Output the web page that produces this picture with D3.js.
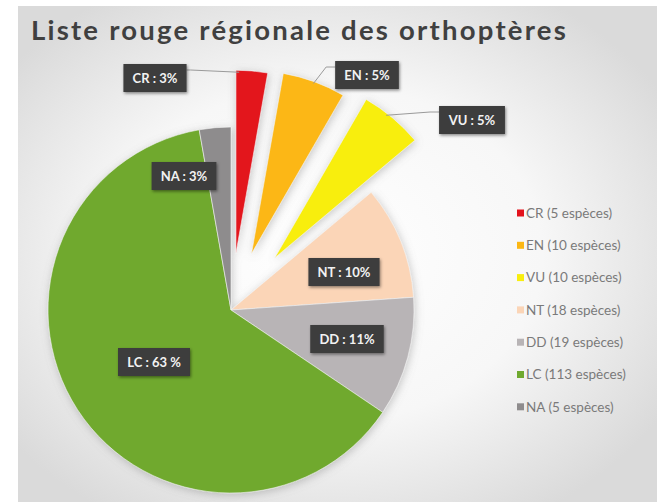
<!DOCTYPE html>
<html>
<head>
<meta charset="utf-8">
<script src="https://cdn.jsdelivr.net/npm/d3@7"></script>
<style>
  body { margin: 0; background: #fff; }
  svg { display: block; }
</style>
</head>
<body>
<div id="chart"></div>
<script>
// DATA
const categories = ["CR", "EN", "VU", "NT", "DD", "LC", "NA"];
const speciesCounts = [5, 10, 10, 18, 19, 113, 5];
const sliceLabels = ["CR : 3%", "EN : 5%", "VU : 5%", "NT : 10%", "DD : 11%", "LC : 63 %", "NA : 3%"];
const legendLabels = categories.map((c, i) => `${c} (${speciesCounts[i]} espèces)`);
const chartTitle = "Liste rouge régionale des orthoptères";

// STYLE / LAYOUT
const width = 657;
const height = 502;
const center = { x: 231, y: 310 };
const radius = 183;
const colors = {
  CR: "#e3121c", EN: "#fcb713", VU: "#f8ee0e", NT: "#fbd5b7",
  DD: "#b8b4b6", LC: "#6fa92f", NA: "#8e8c8d"
};
const explode = { CR: 57, EN: 60, VU: 68 };
// label box centres, relative to the pie centre
const labelOffsets = {
  CR: [-76, -232], EN: [136, -235], VU: [241, -190],
  NT: [113, -38], DD: [116, 29], LC: [-77, 52], NA: [-47, -134]
};
// where leader lines touch the slice (fraction of slice angle)
const leaders = { CR: { frac: 0.1, side: "right" }, EN: { frac: 0.5, side: "left" }, VU: { frac: 0.4, side: "left" } };

const svg = d3.select("#chart")
  .append("svg")
  .attr("width", width)
  .attr("height", height)
  .attr("viewBox", `0 0 ${width} ${height}`);

const defs = svg.append("defs");
const bg = defs.append("radialGradient")
  .attr("id", "bgGrad")
  .attr("cx", "48%").attr("cy", "50%").attr("r", "62%");
bg.append("stop").attr("offset", "0%").attr("stop-color", "#ffffff");
bg.append("stop").attr("offset", "55%").attr("stop-color", "#f7f7f7");
bg.append("stop").attr("offset", "100%").attr("stop-color", "#dadada");

const shadow = defs.append("filter").attr("id", "pieShadow")
  .attr("x", "-20%").attr("y", "-20%").attr("width", "140%").attr("height", "140%");
shadow.append("feDropShadow")
  .attr("dx", 1).attr("dy", 2).attr("stdDeviation", 4)
  .attr("flood-color", "#777").attr("flood-opacity", 0.4);

const boxShadow = defs.append("filter").attr("id", "boxShadow")
  .attr("x", "-20%").attr("y", "-30%").attr("width", "140%").attr("height", "160%");
boxShadow.append("feDropShadow")
  .attr("dx", 1).attr("dy", 1.5).attr("stdDeviation", 1.5)
  .attr("flood-color", "#000").attr("flood-opacity", 0.45);

// BACKGROUND
svg.append("rect")
  .attr("x", 18).attr("y", 6)
  .attr("width", width - 18).attr("height", height - 6)
  .attr("fill", "url(#bgGrad)");

// TITLE (fit to the reference width with a little letter spacing)
const titleText = svg.append("text")
  .attr("x", 31).attr("y", 40)
  .attr("font-family", "Lato, 'Open Sans', sans-serif")
  .attr("font-weight", 700)
  .attr("font-size", 27.5)
  .attr("fill", "#404040")
  .text(chartTitle);
const tLen = titleText.node().getComputedTextLength();
titleText.attr("letter-spacing", (537 - tLen) / chartTitle.length);

// PIE
const data = categories.map((c, i) => ({ cat: c, count: speciesCounts[i], label: sliceLabels[i] }));
const pie = d3.pie().sort(null).value(d => d.count);
const arcs = pie(data);
const arc = d3.arc().innerRadius(0).outerRadius(radius);

const offsetOf = (d) => {
  const e = explode[d.data.cat] || 0;
  const mid = (d.startAngle + d.endAngle) / 2;
  return [Math.sin(mid) * e, -Math.cos(mid) * e];
};

const pieG = svg.append("g")
  .attr("transform", `translate(${center.x}, ${center.y})`);

pieG.append("g")
  .attr("filter", "url(#pieShadow)")
  .selectAll("path")
  .data(arcs)
  .join("path")
  .attr("transform", d => `translate(${offsetOf(d)})`)
  .attr("d", arc)
  .attr("fill", d => colors[d.data.cat])
  .attr("stroke", "#f4f4f4")
  .attr("stroke-width", 0.6);

// LABELS
const labelG = pieG.append("g");
arcs.forEach(d => {
  const [lx, ly] = labelOffsets[d.data.cat];
  const g = labelG.append("g").attr("transform", `translate(${lx}, ${ly})`);
  const rect = g.append("rect").attr("fill", "#3d3d3d").attr("filter", "url(#boxShadow)");
  const t = g.append("text")
    .attr("text-anchor", "middle")
    .attr("dy", "0.36em")
    .attr("font-family", "Lato, 'Open Sans', sans-serif")
    .attr("font-weight", 700)
    .attr("font-size", 13)
    .attr("fill", "#f2f2f2")
    .text(d.data.label);
  const bb = t.node().getBBox();
  const padX = 9, boxH = 28;
  const bw = bb.width + padX * 2;
  rect.attr("x", -bw / 2).attr("y", -boxH / 2).attr("width", bw).attr("height", boxH);

  const ld = leaders[d.data.cat];
  if (ld) {
    const [ox, oy] = offsetOf(d);
    const a = d.startAngle + (d.endAngle - d.startAngle) * ld.frac;
    const tx = ox + Math.sin(a) * (radius - 2);
    const ty = oy - Math.cos(a) * (radius - 2);
    const sx = ld.side === "right" ? lx + bw / 2 : lx - bw / 2;
    const sy = ly - boxH / 2 + 6;
    const kx = ld.side === "right" ? sx + 4 : sx - 9;
    labelG.insert("polyline", ":first-child")
      .attr("points", [[sx, sy], [kx, sy], [tx, ty]].map(p => p.join(",")).join(" "))
      .attr("fill", "none")
      .attr("stroke", "#9a9a9a")
      .attr("stroke-width", 1);
  }
});

// LEGEND
const legend = svg.append("g").attr("transform", "translate(517, 213)");
const items = legend.selectAll("g")
  .data(categories)
  .join("g")
  .attr("transform", (d, i) => `translate(0, ${i * 32.3})`);
items.append("rect")
  .attr("x", 0).attr("y", -3.5)
  .attr("width", 7).attr("height", 7)
  .attr("fill", d => colors[d]);
items.append("text")
  .attr("x", 9).attr("dy", "0.35em")
  .attr("font-family", "Lato, 'Open Sans', sans-serif")
  .attr("font-size", 13.5)
  .attr("fill", "#7a7a7a")
  .text((d, i) => legendLabels[i]);
</script>
</body>
</html>
